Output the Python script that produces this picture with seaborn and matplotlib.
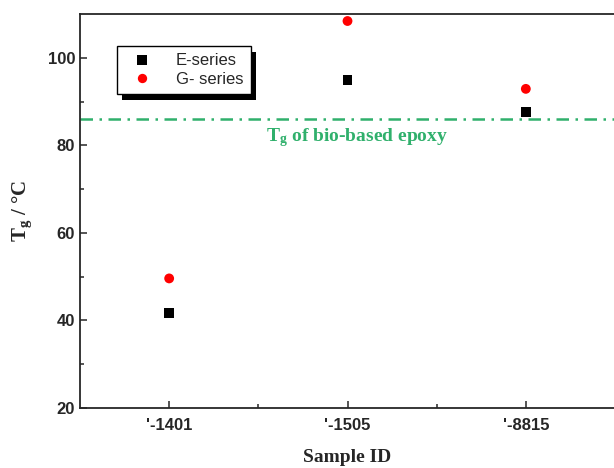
import matplotlib
matplotlib.use("Agg")
import matplotlib.pyplot as plt
from matplotlib.patches import Rectangle
from matplotlib.ticker import FixedLocator
import pandas as pd
import seaborn as sns

# Data
samples = ["'-1401", "'-1505", "'-8815"]
e_series = [41.7, 95.0, 87.6]
g_series = [49.6, 108.4, 92.9]
tg_bio_epoxy = 86.0

df = pd.DataFrame({
    "sample": samples * 2,
    "Tg": e_series + g_series,
    "series": ["E-series"] * 3 + ["G- series"] * 3,
})

sns.set_style("ticks")
plt.rcParams["font.family"] = ["Liberation Sans", "DejaVu Sans"]
plt.rcParams["mathtext.fontset"] = "custom"
plt.rcParams["mathtext.rm"] = "Liberation Serif:bold"
plt.rcParams["mathtext.it"] = "Liberation Serif:bold"
plt.rcParams["mathtext.bf"] = "Liberation Serif:bold"

green = "#30b06c"

fig = plt.figure(figsize=(6.14, 4.68), dpi=100)
ax = fig.add_axes([80 / 614, 60 / 468, 535 / 614, 394 / 468])

sns.scatterplot(data=df, x="sample", y="Tg", hue="series", style="series",
                palette={"E-series": "black", "G- series": "red"},
                markers={"E-series": "s", "G- series": "o"},
                s=50, linewidth=0, ax=ax, zorder=3)

ax.axhline(tg_bio_epoxy, color=green, lw=1.8, linestyle=(0, (5, 2.6, 1, 2.6)), zorder=2)
ax.text(1.056, 81.7, "T$_\\mathregular{g}$ of bio-based epoxy", color=green, ha="center", va="center",
        fontsize=14, fontweight="bold", family="Liberation Serif")

ax.set_xlim(-0.5, 2.5)
ax.set_ylim(20, 110)
ax.set_yticks([20, 40, 60, 80, 100])
ax.yaxis.set_minor_locator(FixedLocator([30, 50, 70, 90]))
ax.xaxis.set_minor_locator(FixedLocator([0.5, 1.5]))
ax.tick_params(which="both", direction="in", width=1.1, labelsize=12)
ax.tick_params(which="major", length=5)
ax.tick_params(which="minor", length=3)
for lab in ax.get_xticklabels() + ax.get_yticklabels():
    lab.set_fontweight("bold")
ax.tick_params(axis="x", pad=7)

ax.set_xlabel("Sample ID", fontsize=14, fontweight="bold", family="Liberation Serif", labelpad=12)
ax.set_ylabel("T$_\\mathregular{g}$ / °C", fontsize=15, fontweight="bold", family="Liberation Serif", labelpad=10)

for side in ["left", "bottom", "top"]:
    ax.spines[side].set_linewidth(1.3)
    ax.spines[side].set_visible(True)
ax.spines["right"].set_visible(False)

handles, labels = ax.get_legend_handles_labels()
leg = ax.legend(handles, labels, loc="upper left", bbox_to_anchor=(0.069, 0.919),
                frameon=True, fancybox=False, edgecolor="black", framealpha=1,
                fontsize=12, handletextpad=1.0, borderpad=0.45, labelspacing=0.2,
                handlelength=2.1, markerscale=0.95, borderaxespad=0)
leg.get_frame().set_linewidth(1.0)
leg.set_zorder(6)

# black drop shadow behind the legend box
fig.canvas.draw()
bb = leg.get_window_extent().transformed(ax.transAxes.inverted())
off_x = 5 / (ax.bbox.width)
off_y = 6 / (ax.bbox.height)
ax.add_patch(Rectangle((bb.x0 + off_x, bb.y0 - off_y), bb.width, bb.height,
                       transform=ax.transAxes, facecolor="black", edgecolor="none",
                       zorder=5, clip_on=False))

fig.savefig("out.png", dpi=100)
